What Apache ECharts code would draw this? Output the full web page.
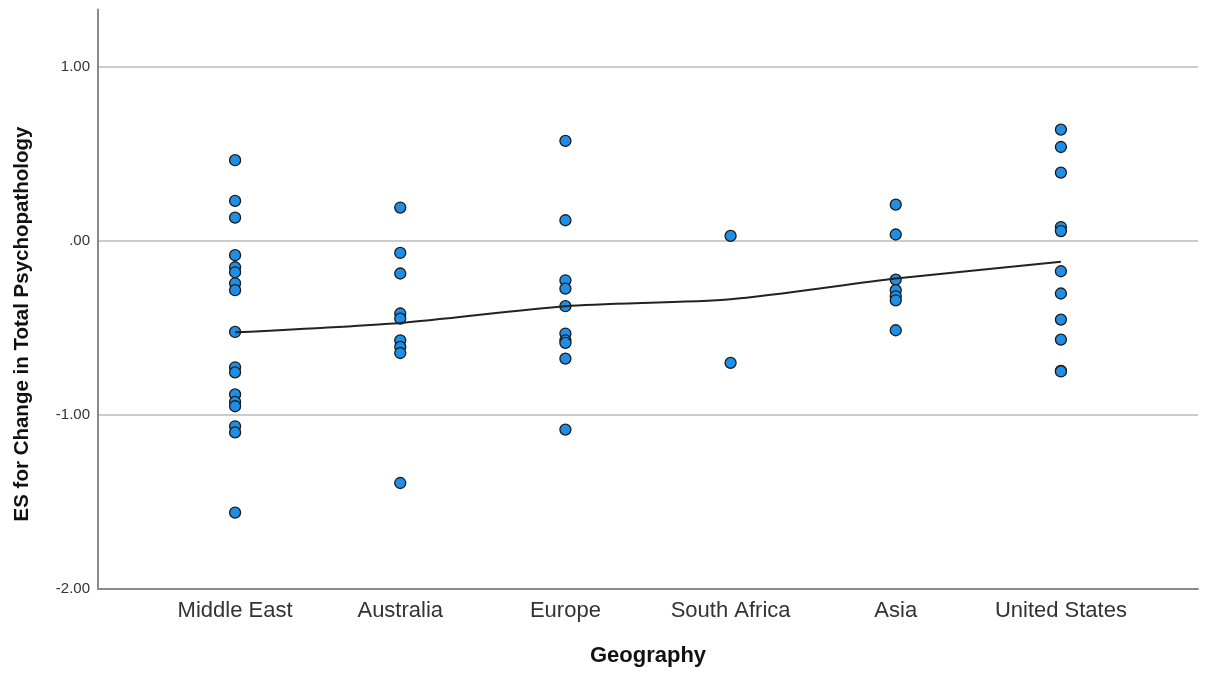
<!DOCTYPE html>
<html>
<head>
<meta charset="utf-8">
<script src="https://cdn.jsdelivr.net/npm/echarts@6/dist/echarts.min.js"></script>
<style>
html,body{margin:0;padding:0;background:#fff;}
#chart{width:1210px;height:676px;}
</style>
</head>
<body>
<div id="chart"></div>
<script>
// ---- data ----
var categories = ['Middle East', 'Australia', 'Europe', 'South Africa', 'Asia', 'United States'];
var middleEast = [0.464, 0.230, 0.134, -0.082, -0.151, -0.180, -0.243, -0.283, -0.523, -0.726, -0.755, -0.882, -0.925, -0.950, -1.065, -1.100, -1.561];
var australia = [0.192, -0.069, -0.187, -0.417, -0.446, -0.571, -0.609, -0.644, -1.391];
var europe = [0.575, 0.119, -0.226, -0.274, -0.375, -0.532, -0.571, -0.586, -0.676, -1.084];
var southAfrica = [0.029, -0.701];
var asia = [0.209, 0.037, -0.222, -0.283, -0.318, -0.341, -0.513];
var unitedStates = [0.640, 0.540, 0.393, 0.080, 0.057, -0.174, -0.302, -0.452, -0.567, -0.747, -0.750];
var meanLine = [-0.525, -0.471, -0.375, -0.335, -0.216, -0.120];
var yTicks = [-2, -1, 0, 1];
var yTickLabels = ['-2.00', '-1.00', '.00', '1.00'];
var yTitle = 'ES for Change in Total Psychopathology';
var xTitle = 'Geography';

var groups = [middleEast, australia, europe, southAfrica, asia, unitedStates];
var scatterData = [];
groups.forEach(function (g, i) {
  g.forEach(function (v) { scatterData.push([i, v]); });
});
var lineData = meanLine.map(function (v, i) { return [i, v]; });

var FONT = "'Liberation Sans', Arial, sans-serif";
var chart = echarts.init(document.getElementById('chart'), null, {renderer: 'canvas'});
chart.setOption({
  animation: false,
  backgroundColor: '#ffffff',
  grid: {left: 98, right: 12, top: 9.5, bottom: 87, containLabel: false},
  graphic: [{
    type: 'text',
    x: 22,
    y: 324,
    rotation: Math.PI / 2,
    silent: true,
    style: {
      text: yTitle,
      font: 'bold 20.5px ' + FONT,
      fill: '#111',
      textAlign: 'center',
      textVerticalAlign: 'middle'
    }
  }],
  xAxis: {
    type: 'value',
    min: -0.83,
    max: 5.83,
    name: xTitle,
    nameLocation: 'middle',
    nameGap: 56,
    nameTextStyle: {fontFamily: FONT, fontSize: 22, fontWeight: 'bold', color: '#111'},
    axisLine: {show: true, onZero: false, lineStyle: {color: '#8a8a8a', width: 2}},
    axisTick: {show: false},
    splitLine: {show: false},
    axisLabel: {
      customValues: [0, 1, 2, 3, 4, 5],
      margin: 11,
      fontFamily: FONT,
      fontSize: 22,
      color: '#333',
      formatter: function (v) { return categories[Math.round(v)] || ''; }
    }
  },
  yAxis: {
    type: 'value',
    min: -2,
    max: 1.33,
    interval: 1,
    axisLine: {show: true, onZero: false, lineStyle: {color: '#8a8a8a', width: 2}},
    axisTick: {show: false},
    splitLine: {show: true, showMinLine: false, showMaxLine: false, lineStyle: {color: '#cccccc', width: 2}},
    axisLabel: {
      customValues: yTicks,
      margin: 8,
      fontFamily: FONT,
      fontSize: 15,
      color: '#333',
      formatter: function (v) {
        var i = yTicks.indexOf(Math.round(v));
        return i >= 0 ? yTickLabels[i] : '';
      }
    }
  },
  series: [
    {
      type: 'scatter',
      data: scatterData,
      symbol: 'circle',
      symbolSize: 11,
      itemStyle: {color: '#1f8ee6', borderColor: '#1a1a1a', borderWidth: 1.3, opacity: 1},
      z: 2
    },
    {
      type: 'line',
      data: lineData,
      showSymbol: false,
      smooth: 0.25,
      lineStyle: {color: '#222', width: 2},
      z: 3
    }
  ]
});
</script>
</body>
</html>
